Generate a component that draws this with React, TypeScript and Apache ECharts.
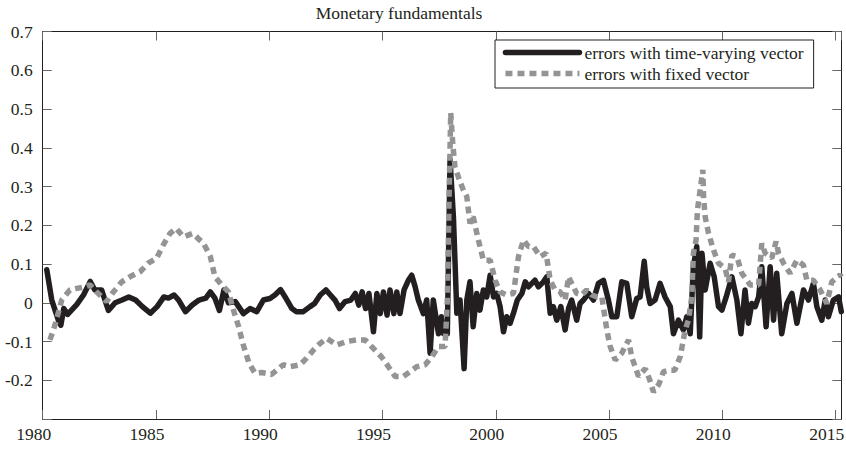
import React, { useEffect, useRef } from "react";
import * as echarts from "echarts";

const titleText = "Monetary fundamentals";
const seriesNames = ["errors with time-varying vector", "errors with fixed vector"];

const timeVaryingYears = [
  1980.18, 1980.4, 1980.69, 1980.8, 1980.93, 1981.1, 1981.5, 1981.8, 1982.1, 1982.3,
  1982.6, 1982.9, 1983.2, 1983.5, 1983.8, 1984.1, 1984.4, 1984.75, 1985.05, 1985.35,
  1985.55, 1985.8, 1986.0, 1986.3, 1986.6, 1986.9, 1987.2, 1987.4, 1987.6, 1987.8,
  1988.0, 1988.2, 1988.5, 1988.86, 1989.15, 1989.45, 1989.74, 1990.03, 1990.25, 1990.5,
  1990.7, 1991.0, 1991.2, 1991.5, 1991.8, 1992.0, 1992.25, 1992.5, 1992.7, 1992.9,
  1993.1, 1993.35, 1993.6, 1993.8, 1993.95, 1994.1, 1994.25, 1994.4, 1994.6, 1994.75,
  1994.9, 1995.04, 1995.2, 1995.33, 1995.5, 1995.63, 1995.77, 1995.95, 1996.14, 1996.29,
  1996.44, 1996.58, 1996.8, 1996.95, 1997.1, 1997.24, 1997.47, 1997.6, 1997.69, 1997.86,
  1997.98, 1998.13, 1998.28, 1998.42, 1998.6, 1998.72, 1998.86, 1999.0, 1999.16, 1999.3,
  1999.45, 1999.6, 1999.75, 1999.9, 2000.04, 2000.19, 2000.34, 2000.48, 2000.63, 2000.78,
  2000.95, 2001.15, 2001.3, 2001.44, 2001.59, 2001.73, 2001.88, 2002.1, 2002.25, 2002.4,
  2002.54, 2002.69, 2002.87, 2003.06, 2003.21, 2003.35, 2003.57, 2003.72, 2003.87, 2004.09,
  2004.31, 2004.53, 2004.75, 2004.97, 2005.12, 2005.34, 2005.56, 2005.78, 2006.0, 2006.22,
  2006.37, 2006.55, 2006.66, 2006.81, 2007.03, 2007.25, 2007.47, 2007.7, 2007.84, 2008.06,
  2008.28, 2008.43, 2008.58, 2008.72, 2008.87, 2009.0, 2009.1, 2009.24, 2009.46, 2009.64,
  2009.83, 2009.98, 2010.17, 2010.42, 2010.64, 2010.82, 2011.0, 2011.15, 2011.3, 2011.45,
  2011.6, 2011.74, 2011.93, 2012.11, 2012.26, 2012.4, 2012.62, 2012.85, 2013.07, 2013.29,
  2013.58, 2013.8, 2014.02, 2014.17, 2014.39, 2014.54, 2014.68, 2014.9, 2015.13, 2015.25,
];
const timeVaryingErrors = [
  0.085, 0.007, -0.045, -0.058, -0.015, -0.03, -0.005, 0.02, 0.055, 0.033,
  0.033, -0.02, 0.0, 0.007, 0.015, 0.007, -0.01, -0.027, -0.01, 0.015,
  0.012, 0.02, 0.007, -0.023, -0.006, 0.007, 0.012, 0.028, 0.012, -0.02,
  0.033, 0.0, 0.003, -0.028, -0.015, -0.023, 0.007, 0.011, 0.02, 0.034,
  0.015, -0.015, -0.023, -0.023, -0.01, -0.002, 0.02, 0.033, 0.02, 0.007,
  -0.015, 0.003, 0.007, 0.024, -0.006, 0.028, -0.015, 0.024, -0.075, 0.024,
  -0.028, 0.028, -0.032, 0.033, -0.028, 0.028, -0.028, 0.033, 0.058, 0.071,
  0.041, 0.007, -0.028, 0.007, -0.13, 0.007, -0.08, -0.036, -0.08, -0.08,
  0.37, 0.22, -0.027, 0.007, -0.17, 0.007, 0.054, -0.062, 0.024, -0.019,
  0.033, 0.015, 0.071, 0.015, 0.024, -0.01, -0.075, -0.036, -0.053, -0.027,
  0.007, 0.024, 0.054, 0.041, 0.05, 0.058, 0.041, 0.054, 0.067, -0.027,
  -0.01, -0.045, -0.01, -0.07, -0.015, 0.007, -0.045, -0.002, 0.007, 0.024,
  0.007, 0.05, 0.058, 0.007, -0.036, -0.036, 0.054, 0.05, -0.036, 0.011,
  0.015, 0.107, 0.041, -0.002, 0.007, 0.05, 0.015, -0.01, -0.08, -0.045,
  -0.07, -0.036, -0.08, 0.093, 0.145, -0.088, 0.128, 0.033, 0.102, 0.067,
  -0.01, -0.019, 0.015, 0.067, 0.007, -0.08, 0.033, -0.053, -0.002, -0.01,
  0.015, 0.093, -0.062, 0.093, -0.045, 0.076, -0.08, -0.002, 0.024, -0.053,
  0.033, 0.007, 0.05, -0.01, -0.045, 0.007, -0.036, 0.007, 0.015, -0.023,
];

const fixedYears = [
  1980.32, 1980.54, 1980.84, 1981.2, 1981.5, 1981.87, 1982.09, 1982.38, 1982.82, 1983.12,
  1983.49, 1983.85, 1984.3, 1984.66, 1985.03, 1985.33, 1985.62, 1985.89, 1986.21, 1986.62,
  1987.1, 1987.4, 1987.6, 1987.9, 1988.2, 1988.42, 1988.64, 1988.86, 1989.1, 1989.37,
  1989.67, 1990.1, 1990.62, 1990.92, 1991.36, 1991.65, 1991.95, 1992.24, 1992.54, 1992.98,
  1993.42, 1993.86, 1994.23, 1994.6, 1994.96, 1995.26, 1995.55, 1995.92, 1996.22, 1996.51,
  1996.88, 1997.17, 1997.47, 1997.76, 1997.86, 1997.95, 1998.01, 1998.1, 1998.2, 1998.35,
  1998.57, 1998.72, 1998.86, 1999.0, 1999.23, 1999.45, 1999.75, 1999.97, 2000.19, 2000.48,
  2000.78, 2001.0, 2001.22, 2001.44, 2001.66, 2001.96, 2002.22, 2002.4, 2002.62, 2002.84,
  2003.06, 2003.21, 2003.35, 2003.57, 2003.79, 2004.01, 2004.24, 2004.46, 2004.68, 2004.9,
  2005.05, 2005.27, 2005.56, 2005.86, 2006.0, 2006.3, 2006.6, 2006.8, 2006.96, 2007.2,
  2007.4, 2007.7, 2007.9, 2008.14, 2008.36, 2008.5, 2008.65, 2008.72, 2008.84, 2008.9,
  2008.99, 2009.14, 2009.17, 2009.24, 2009.39, 2009.61, 2009.83, 2010.12, 2010.27, 2010.42,
  2010.64, 2010.86, 2011.23, 2011.6, 2011.74, 2011.89, 2012.18, 2012.37, 2012.48, 2012.7,
  2012.99, 2013.29, 2013.58, 2013.73, 2014.02, 2014.32, 2014.61, 2014.83, 2015.2, 2015.25,
];
const fixedErrors = [
  -0.096, -0.058, 0.007, 0.033, 0.037, 0.041, 0.046, 0.028, 0.003, 0.028,
  0.054, 0.067, 0.08, 0.102, 0.115, 0.15, 0.179, 0.192, 0.17, 0.179,
  0.153, 0.119, 0.067, 0.046, 0.028, -0.019, -0.06, -0.11, -0.155, -0.182,
  -0.18, -0.185, -0.16, -0.165, -0.16, -0.143, -0.122, -0.105, -0.092, -0.109,
  -0.1, -0.096, -0.096, -0.118, -0.14, -0.165, -0.19, -0.19, -0.178, -0.165,
  -0.16, -0.14, -0.113, -0.113, 0.007, 0.308, 0.49, 0.41, 0.35, 0.324,
  0.29, 0.274, 0.205, 0.222, 0.162, 0.11, 0.11, 0.058, 0.028, 0.02,
  0.024, 0.119, 0.162, 0.145, 0.145, 0.119, 0.128, 0.058, 0.033, 0.028,
  0.007, 0.067, 0.05, 0.024, 0.02, 0.033, 0.02, 0.015, 0.015, -0.07,
  -0.113, -0.148, -0.13, -0.096, -0.14, -0.19, -0.17, -0.2, -0.23, -0.21,
  -0.178, -0.174, -0.174, -0.139, -0.07, -0.045, 0.015, 0.127, 0.162, 0.24,
  0.278, 0.343, 0.274, 0.222, 0.179, 0.136, 0.102, 0.089, 0.054, 0.123,
  0.119, 0.076, 0.046, 0.046, 0.153, 0.128, 0.115, 0.158, 0.128, 0.102,
  0.076, 0.11, 0.097, 0.058, 0.058, 0.033, -0.002, 0.054, 0.072, 0.067,
];

const xMin = 1980;
const xMax = 2015.25;
const xStep = 5;
const yMin = -0.3;
const yMax = 0.7;
const yStep = 0.1;

const FONT = "'Liberation Serif', 'Times New Roman', serif";
const INK = "#231f20";
const GREY = "#949494";

export default function App() {
  const ref = useRef<HTMLDivElement>(null);

  useEffect(() => {
    if (!ref.current) return;
    const chart = echarts.init(ref.current, null, { renderer: "svg" });

    const blackData = timeVaryingYears.map((t, i) => [t, timeVaryingErrors[i]]);
    const greyData = fixedYears.map((t, i) => [t, fixedErrors[i]]);

    const tickStyle = { show: true, inside: true, length: 9, lineStyle: { color: "#666", width: 1 } };
    const lineStyle = { show: true, onZero: false, lineStyle: { color: INK, width: 1 } };
    const hiddenSymbol = { color: "rgba(0,0,0,0)", borderWidth: 0, opacity: 0 };

    chart.setOption({
      animation: false,
      backgroundColor: "#fff",
      title: {
        text: titleText,
        left: 399,
        top: 4,
        textAlign: "center",
        padding: 0,
        textStyle: { fontFamily: FONT, fontSize: 17.5, fontWeight: "normal", color: INK },
      },
      legend: {
        orient: "vertical",
        left: 495,
        top: 40,
        padding: [2, 10, 4, 7.7],
        itemWidth: 74,
        itemHeight: 14,
        itemGap: 0,
        borderColor: INK,
        borderWidth: 1,
        backgroundColor: "#fff",
        selectedMode: false,
        itemStyle: hiddenSymbol,
        textStyle: { fontFamily: FONT, fontSize: 17.5, color: INK, lineHeight: 21 },
        data: [
          { name: seriesNames[0], itemStyle: hiddenSymbol, lineStyle: { width: 5.5, color: INK } },
          { name: seriesNames[1], itemStyle: hiddenSymbol, lineStyle: { width: 5.5, color: GREY, type: [7, 5] } },
        ],
      },
      grid: { left: 42.7, right: 4.7, top: 31.5, bottom: 30, containLabel: false, outerBoundsMode: "none" },
      xAxis: [
        {
          type: "value",
          position: "bottom",
          min: xMin,
          max: xMax,
          interval: xStep,
          axisLine: lineStyle,
          axisTick: tickStyle,
          splitLine: { show: false },
          axisLabel: {
            margin: 6,
            showMaxLabel: false,
            padding: [0, 18, 0, 0],
            fontFamily: FONT,
            fontSize: 17.5,
            color: INK,
            formatter: (v: number) => (Math.abs(v - Math.round(v)) < 1e-6 && Math.round(v) % 5 === 0 ? String(Math.round(v)) : ""),
          },
        },
        {
          type: "value",
          position: "top",
          min: xMin,
          max: xMax,
          interval: xStep,
          axisLine: lineStyle,
          axisTick: tickStyle,
          splitLine: { show: false },
          axisLabel: { show: false },
        },
      ],
      yAxis: [
        {
          type: "value",
          position: "left",
          min: yMin,
          max: yMax,
          interval: yStep,
          axisLine: lineStyle,
          axisTick: tickStyle,
          splitLine: { show: false },
          axisLabel: {
            margin: 10,
            fontFamily: FONT,
            fontSize: 17.5,
            color: INK,
            formatter: (v: number) => {
              const r = Math.round(v * 10) / 10;
              if (r < -0.25) return "";
              return r === 0 ? "0" : r.toFixed(1);
            },
          },
        },
        {
          type: "value",
          position: "right",
          min: yMin,
          max: yMax,
          interval: yStep,
          axisLine: lineStyle,
          axisTick: tickStyle,
          splitLine: { show: false },
          axisLabel: { show: false },
        },
      ],
      series: [
        {
          name: seriesNames[0],
          type: "line",
          xAxisIndex: 0,
          yAxisIndex: 0,
          data: blackData,
          showSymbol: false,
          symbol: "none",
          lineStyle: { color: INK, width: 5.5, join: "round", cap: "round" },
          itemStyle: { color: INK },
        },
        {
          name: seriesNames[1],
          type: "line",
          xAxisIndex: 0,
          yAxisIndex: 0,
          data: greyData,
          showSymbol: false,
          symbol: "none",
          lineStyle: { color: GREY, width: 5.5, type: [7, 5], cap: "butt", join: "bevel" },
          itemStyle: { color: GREY },
        },
      ],
    });

    return () => chart.dispose();
  }, []);

  return (
    <div
      ref={ref}
      style={{ position: "fixed", left: 0, top: 0, width: 846, height: 449, background: "#fff" }}
    />
  );
}
